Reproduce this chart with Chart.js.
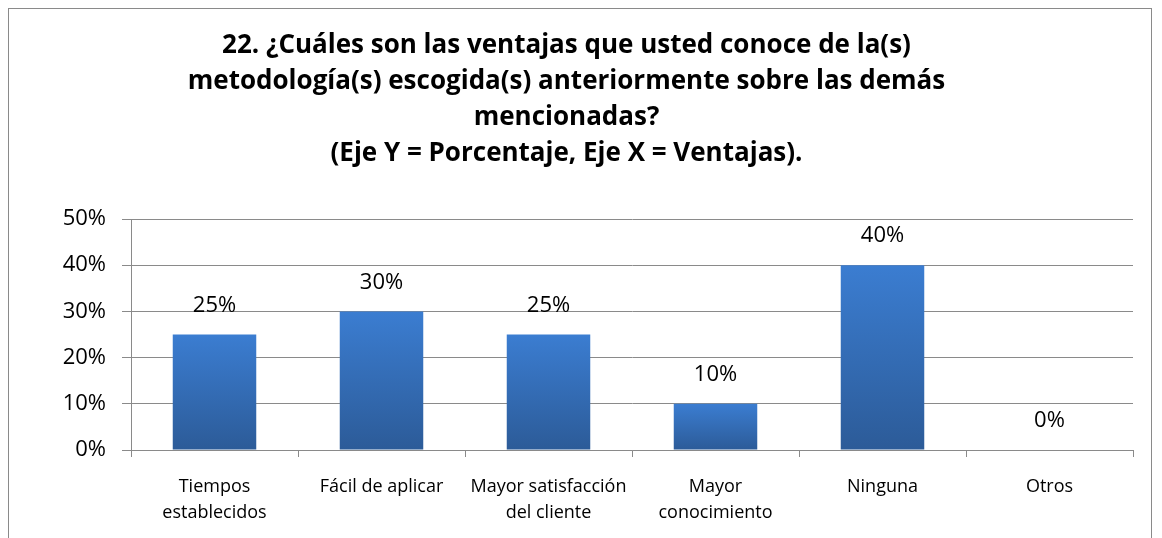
<!DOCTYPE html>
<html>
<head>
<meta charset="utf-8">
<script src="https://cdn.jsdelivr.net/npm/chart.js@4/dist/chart.umd.min.js"></script>
<style>
    html, body { margin: 0; padding: 0; background: #fff; overflow: hidden; }
    #frame { position: absolute; left: 8px; top: 8px; width: 1144px; height: 600px; border: 1px solid #8a8a8a; box-sizing: border-box; }
    #wrap { position: absolute; left: 0; top: 0; width: 1162px; height: 538px; }
</style>
</head>
<body>
<div id="frame"></div>
<div id="wrap"><canvas id="ventajas-chart"></canvas></div>
<script>
    "use strict";

    const titleLines = [
        '22. ¿Cuáles son las ventajas que usted conoce de la(s)',
        'metodología(s) escogida(s) anteriormente sobre las demás',
        'mencionadas?',
        '(Eje Y = Porcentaje, Eje X = Ventajas).'
    ];
    const categories = [
        ['Tiempos', 'establecidos'],
        'Fácil de aplicar',
        ['Mayor satisfacción', 'del cliente'],
        ['Mayor', 'conocimiento'],
        'Ninguna',
        'Otros'
    ];
    const percentages = [25, 30, 25, 10, 40, 0];
    const yTicks = [0, 10, 20, 30, 40, 50];

    const fontFamily = '"Open Sans", Lato, sans-serif';
    const gridColor = '#8a8a8a';

    function barFill(c) {
        const chart = c.chart;
        const area = chart.chartArea;
        if (!area) return '#3470bd';
        const y = chart.scales.y;
        const top = y.getPixelForValue(c.raw);
        const base = y.getPixelForValue(0);
        if (base - top < 1) return '#3470bd';
        const g = chart.ctx.createLinearGradient(0, top, 0, base);
        g.addColorStop(0, '#3b7dd1');
        g.addColorStop(1, '#2c5b98');
        return g;
    }

    // value labels above each bar
    const valueLabels = {
        id: 'valueLabels',
        afterDatasetsDraw(chart) {
            const ctx = chart.ctx;
            const meta = chart.getDatasetMeta(0);
            ctx.save();
            ctx.font = '22px ' + fontFamily;
            ctx.fillStyle = '#000';
            ctx.textAlign = 'center';
            ctx.textBaseline = 'middle';
            meta.data.forEach(function(bar, i) {
                ctx.fillText(percentages[i] + '%', bar.x, bar.y - 29);
            });
            ctx.restore();
        }
    };

    let ventajasChart = document.getElementById('ventajas-chart');
    if (ventajasChart) {
        window.Chart && new Chart(ventajasChart, {
            type: 'bar',
            data: {
                labels: categories,
                datasets: [{
                    label: 'Porcentaje',
                    data: percentages,
                    backgroundColor: barFill,
                    borderWidth: 0,
                    barPercentage: 0.5,
                    categoryPercentage: 1
                }]
            },
            options: {
                responsive: true,
                maintainAspectRatio: false,
                animation: false,
                layout: {
                    padding: { left: 0, right: 29, top: 0, bottom: 0 }
                },
                plugins: {
                    legend: { display: false },
                    tooltip: { enabled: false },
                    title: {
                        display: true,
                        text: titleLines,
                        color: '#000',
                        font: { family: fontFamily, size: 26, weight: 'bold', lineHeight: 1.385 },
                        padding: { top: 28, bottom: 47 }
                    }
                },
                scales: {
                    x: {
                        grid: {
                            display: true,
                            drawOnChartArea: false,
                            drawTicks: true,
                            tickLength: 7,
                            color: gridColor
                        },
                        border: { display: true, color: gridColor, width: 1 },
                        ticks: {
                            color: '#000',
                            padding: 17,
                            maxRotation: 0,
                            autoSkip: false,
                            font: { family: fontFamily, size: 18, lineHeight: 1.44 }
                        },
                        afterFit: function(scale) { scale.height = 88; }
                    },
                    y: {
                        min: 0,
                        max: 50,
                        afterBuildTicks: function(scale) {
                            scale.ticks = yTicks.map(function(v) { return { value: v }; });
                        },
                        grid: {
                            color: gridColor,
                            tickLength: 9,
                            drawTicks: true
                        },
                        border: { display: true, color: gridColor, width: 1 },
                        ticks: {
                            color: '#000',
                            padding: 16,
                            font: { family: fontFamily, size: 22 },
                            callback: function(v) { return v + '%'; }
                        },
                        afterFit: function(scale) { scale.width = 131; }
                    }
                }
            },
            plugins: [valueLabels]
        });
    }
</script>
</body>
</html>
